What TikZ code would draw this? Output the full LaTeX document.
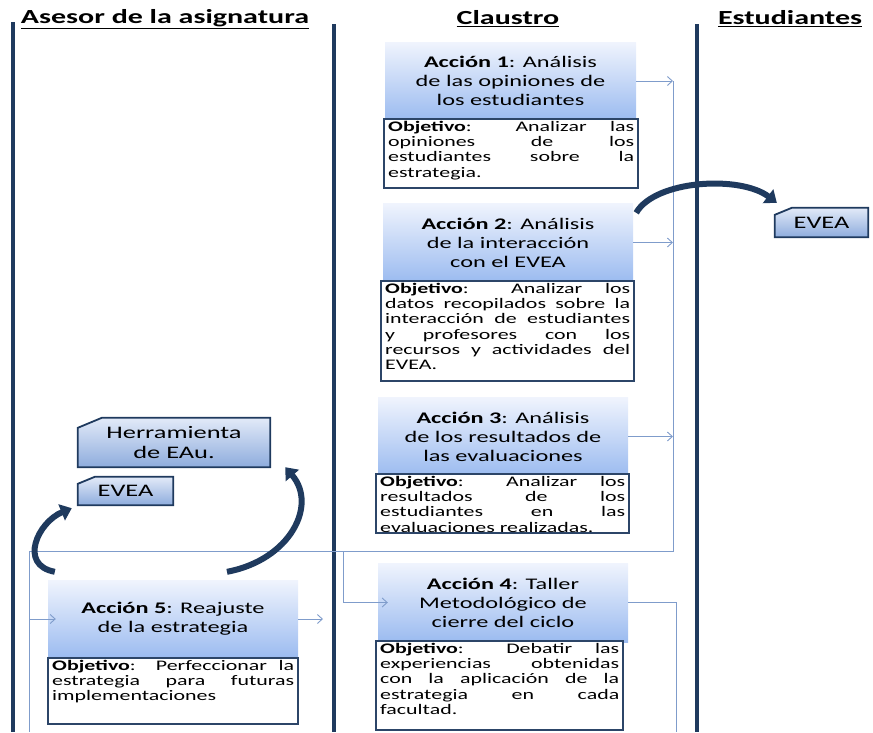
\documentclass[tikz,border=0pt]{standalone}
\usepackage{fontspec}
\setmainfont[FakeStretch=1.5]{Carlito}
\usetikzlibrary{arrows.meta,backgrounds}
\definecolor{lanec}{HTML}{1F3A5E}
\definecolor{connc}{HTML}{7F9CCB}
\definecolor{gtop}{HTML}{F0F4FD}
\definecolor{gbot}{HTML}{9BBBF0}
\definecolor{objc}{HTML}{2C4568}
\definecolor{tagtop}{HTML}{E2EAF8}
\definecolor{tagbot}{HTML}{8EACDD}
\newcommand{\objtxt}[3]{\parbox[c][#2][t]{#1}{\tolerance=10000\hbadness=10000\hyphenpenalty=10000 #3}}
\begin{document}
\begin{tikzpicture}[x=1pt,y=-1pt,
 lane/.style={draw=lanec,line width=4pt},
 hdr/.style={font=\fontsize{20}{22}\selectfont\bfseries, inner sep=0pt},
 accion/.style={rectangle, top color=gtop, bottom color=gbot, draw=none, align=center, font=\fontsize{16.2}{19}\selectfont, minimum width=250pt, minimum height=79pt, inner sep=0pt},
 objbox/.style={draw=objc, line width=2.4pt, fill=white, inner xsep=4pt, inner ysep=2pt, anchor=north west, font=\fontsize{14.6}{15.2}\selectfont},
 conn/.style={draw=connc, line width=0.9pt},
 connarr/.style={conn, -{Straight Barb[length=5pt,width=9pt]}},
 bigarr/.style={draw=lanec, line width=6pt, -{Triangle[length=11pt,width=17pt]}},
 tag/.style={inner sep=0pt, font=\fontsize{17.6}{19.5}\selectfont, align=center},
 tagshape/.style={top color=tagtop, bottom color=tagbot, draw=lanec, line width=1.8pt}
]
\useasboundingbox (0,0) rectangle (873,732);

% lanes
\coordinate (l1t) at (13,22); \coordinate (l1b) at (13,732);
\coordinate (l2t) at (334,24); \coordinate (l2b) at (334,732);
\coordinate (l3t) at (697,24); \coordinate (l3b) at (697,732);
\draw[lane] (l1t) -- (l1b);
\draw[lane] (l2t) -- (l2b);
\draw[lane] (l3t) -- (l3b);

% headers
\node[hdr] (h1) at (165,19) {\underline{Asesor de la asignatura}};
\node[hdr] (h2) at (508,19) {\underline{Claustro}};
\node[hdr] (h3) at (790,19) {\underline{Estudiantes}};

% acciones
\node[accion, minimum width=251pt, minimum height=78pt] (a1) at (510.5,81) {\textbf{Acción 1}: Análisis\\de las opiniones de\\los estudiantes};
\node[accion] (a2) at (508,242.5) {\textbf{Acción 2}: Análisis\\de la interacción\\con el EVEA};
\node[accion] (a3) at (503,436.5) {\textbf{Acción 3}: Análisis\\de los resultados de\\las evaluaciones};
\node[accion] (a4) at (503,602.5) {\textbf{Acción 4}: Taller\\Metodológico de\\cierre del ciclo};
\node[accion, minimum height=78pt] (a5) at (173,619) {\textbf{Acción 5}: Reajuste\\de la estrategia};

% objetivos
\node[objbox] (o1) at (383,118) {\objtxt{246pt}{65pt}{\textbf{Objetivo}: Analizar las\linebreak opiniones de los\linebreak estudiantes sobre la\linebreak estrategia.}};
\node[objbox] (o2) at (380,280) {\objtxt{245pt}{96pt}{\textbf{Objetivo}: Analizar los\linebreak datos recopilados sobre la\linebreak interacción de estudiantes\linebreak y profesores con los\linebreak recursos y actividades del\linebreak EVEA.}};
\node[objbox] (o3) at (375,473) {\objtxt{245pt}{55pt}{\textbf{Objetivo}: Analizar los\linebreak resultados de los\linebreak estudiantes en las\linebreak evaluaciones realizadas.}};
\node[objbox] (o4) at (375,640) {\objtxt{239pt}{85pt}{\textbf{Objetivo}: Debatir las\linebreak experiencias obtenidas\linebreak con la aplicación de la\linebreak estrategia en cada\linebreak facultad.}};
\node[objbox] (o5) at (47,657) {\objtxt{242pt}{62pt}{\textbf{Objetivo}: Perfeccionar la\linebreak estrategia para futuras\linebreak implementaciones}};

% tags
\node[tag, minimum width=192pt, minimum height=49pt] (herr) at (174,442.5) {Herramienta\\de EAu.};
\node[tag, minimum width=95pt, minimum height=28pt] (evl) at (125.5,491) {EVEA};
\node[tag, minimum width=93pt, minimum height=29pt] (evr) at (821.5,222.5) {EVEA};
\begin{scope}[on background layer]
\shadedraw[tagshape] (herr.south west) -- (herr.south east) -- (herr.north east) -- ([xshift=24pt]herr.north west) -- ([yshift=-10pt]herr.north west) -- cycle;
\shadedraw[tagshape] (evl.south west) -- (evl.south east) -- (evl.north east) -- ([xshift=17pt]evl.north west) -- ([yshift=-7pt]evl.north west) -- cycle;
\shadedraw[tagshape] (evr.south west) -- (evr.south east) -- (evr.north east) -- ([xshift=17pt]evr.north west) -- ([yshift=-7pt]evr.north west) -- cycle;
\end{scope}

% connectors
\coordinate (tr) at (673,551);
\coordinate (lc) at (29,551);
\coordinate (lb) at (29,732);
\coordinate (br) at (343,551);
\coordinate (a5out) at (323,619);
\coordinate (r4) at (676,732);
\draw[conn] (a1.east -| tr) -- (tr) -- (lc) -- (lb);
\draw[connarr] (a1.east) -- (a1.east -| tr);
\draw[connarr] (a2.east) -- (a2.east -| tr);
\draw[connarr] (a3.east) -- (a3.east -| tr);
\draw[connarr] (a5.west -| lc) -- ([xshift=8pt]a5.west);
\draw[connarr] (a5.east) -- (a5out);
\draw[connarr] (br) |- ([xshift=10pt]a4.west);
\draw[conn] (a4.east) -| (r4);

% big curved arrows
\draw[bigarr] ([xshift=3pt,yshift=-10pt]a2.north east) .. controls (655,180) and (740,175) .. ([xshift=2pt,yshift=5pt]evr.north west);
\draw[bigarr] ([xshift=7pt,yshift=8pt]a5.north west) .. controls (18,565) and (38,522) .. ([xshift=-6pt,yshift=-3pt]evl.south west);
\draw[bigarr] ([xshift=54pt,yshift=8pt]a5.north) .. controls (290,560) and (318,505) .. ([xshift=15pt]herr.south east);
\end{tikzpicture}
\end{document}
